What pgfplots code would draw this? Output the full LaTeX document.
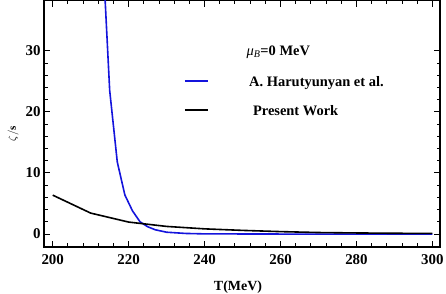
\documentclass[border=0pt]{standalone}
\usepackage{pgfplots}
\pgfplotsset{compat=1.18}
\usepackage{fontspec}
\setmainfont{Liberation Serif}
\definecolor{mblue}{RGB}{20,20,220}
\begin{document}
\begin{tikzpicture}
\useasboundingbox (-44bp,-47.3bp) rectangle (402bp,246.7bp);
\begin{axis}[
  at={(0,0)}, anchor=south west,
  scale only axis, width=396bp, height=246bp,
  xmin=197.7, xmax=302, ymin=-2.07, ymax=38.2,
  xtick={200,220,...,300}, ytick={0,10,20,30},
  minor x tick num=4, minor y tick num=4,
  axis line style={line width=1.6bp},
  every tick/.style={black, line width=1bp},
  major tick length=6bp, minor tick length=3.5bp,
  /pgf/number format/assume math mode=true,
  tick label style={font=\fontsize{15}{18}\selectfont\bfseries},
  xticklabel style={yshift=-4bp},
  xlabel={T(MeV)},
  xlabel style={font=\fontsize{14}{16}\selectfont\bfseries, xshift=-4bp, yshift=-9.5bp},
  ylabel={$\zeta/\mathbf{s}$},
  ylabel style={font=\fontsize{11}{13}\selectfont, at={(ticklabel cs:0.46)}},
  clip=true,
]
\addplot[mblue, line width=1.6bp] coordinates {
 (213.5,42) (215,23.5) (217,11.8) (219,6.4) (221,3.8) (223,2.0) (225,1.2)
 (227,0.7) (230,0.3) (235,0.1) (240,0.03) (260,0) (300,0)
};
\addplot[black, line width=1.6bp] coordinates {
 (200,6.37) (210,3.43) (220,1.96) (230,1.25) (240,0.85) (250,0.6) (260,0.4)
 (270,0.25) (280,0.18) (290,0.13) (300,0.1)
};
% legend sample lines
\addplot[mblue, line width=1.6bp] coordinates {(234.8,25.10) (240.9,25.10)};
\addplot[black, line width=1.6bp] coordinates {(234.8,20.31) (240.9,20.31)};
\node[anchor=base west, inner sep=0pt, font=\fontsize{14.5}{17}\selectfont\bfseries]
  at (axis cs:251.7,24.12) {A. Harutyunyan et al.};
\node[anchor=base west, inner sep=0pt, font=\fontsize{14.5}{17}\selectfont\bfseries]
  at (axis cs:252.7,19.33) {Present Work};
\node[anchor=base west, inner sep=0pt, font=\fontsize{14.5}{17}\selectfont\bfseries]
  at (axis cs:251,29.3) {\textit{\mdseries μ}\textsubscript{\textit{\mdseries B}}=0 MeV};
\end{axis}
\end{tikzpicture}
\end{document}
